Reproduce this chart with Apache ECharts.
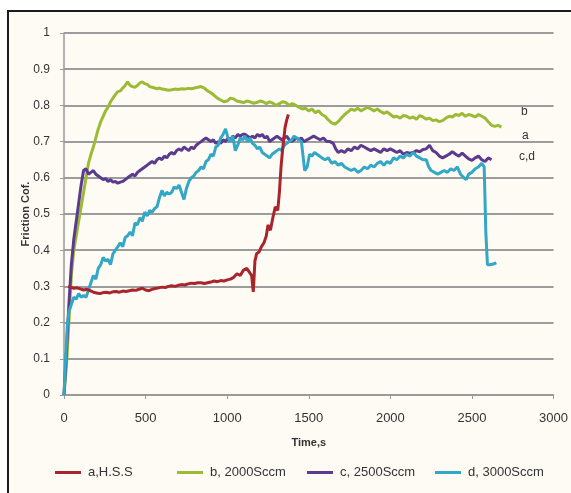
<!DOCTYPE html>
<html>
<head>
<meta charset="utf-8">
<script src="https://cdn.jsdelivr.net/npm/echarts@6/dist/echarts.min.js"></script>
<style>
html,body{margin:0;padding:0;background:#ffffff;}
#chart{width:571px;height:493px;}
</style>
</head>
<body>
<div id="chart"></div>
<script>
// ---- Data (time s, friction coefficient) ----
const seriesNames = ['a,H.S.S', 'b, 2000Sccm', 'c, 2500Sccm', 'd, 3000Sccm'];
const xTicks = [0, 500, 1000, 1500, 2000, 2500, 3000];
const yTicks = [0, 0.1, 0.2, 0.3, 0.4, 0.5, 0.6, 0.7, 0.8, 0.9, 1];

const dataA = [[25,0.30],[40,0.298],[60,0.295],[80,0.296],[100,0.293],[120,0.29],[140,0.292],[160,0.288],[180,0.284],[200,0.282],[220,0.28],[240,0.283],[260,0.284],[280,0.282],[300,0.285],[320,0.286],[340,0.284],[360,0.287],[380,0.286],[400,0.288],[420,0.29],[440,0.289],[460,0.292],[480,0.295],[500,0.29],[520,0.288],[540,0.292],[560,0.294],[580,0.296],[600,0.298],[620,0.297],[640,0.3],[660,0.302],[680,0.3],[700,0.303],[720,0.305],[740,0.304],[760,0.307],[780,0.309],[800,0.308],[820,0.31],[840,0.31],[860,0.308],[880,0.31],[900,0.312],[920,0.315],[940,0.313],[960,0.316],[980,0.315],[1000,0.318],[1020,0.32],[1040,0.325],[1060,0.335],[1080,0.33],[1100,0.345],[1120,0.35],[1135,0.34],[1150,0.33],[1160,0.285],[1170,0.37],[1180,0.39],[1195,0.395],[1210,0.41],[1225,0.42],[1240,0.44],[1250,0.47],[1265,0.455],[1280,0.49],[1295,0.52],[1310,0.51],[1320,0.56],[1330,0.63],[1340,0.68],[1355,0.74],[1365,0.76],[1375,0.775]];

const dataB = [[0,0],[15,0.08],[30,0.2],[45,0.33],[60,0.4],[75,0.44],[90,0.48],[105,0.52],[120,0.56],[135,0.6],[150,0.64],[165,0.665],[180,0.685],[195,0.71],[210,0.735],[225,0.755],[240,0.77],[255,0.785],[270,0.795],[285,0.81],[300,0.82],[315,0.83],[330,0.838],[345,0.84],[360,0.848],[375,0.855],[390,0.865],[405,0.855],[420,0.852],[435,0.85],[450,0.855],[465,0.862],[480,0.865],[495,0.86],[510,0.858],[525,0.852],[540,0.85],[555,0.848],[570,0.846],[585,0.848],[600,0.845],[620,0.844],[640,0.842],[660,0.843],[680,0.845],[700,0.844],[720,0.846],[740,0.845],[760,0.847],[780,0.846],[800,0.848],[820,0.85],[840,0.852],[860,0.848],[880,0.84],[900,0.835],[920,0.828],[940,0.82],[960,0.815],[980,0.81],[1000,0.812],[1020,0.82],[1040,0.818],[1060,0.812],[1080,0.81],[1100,0.808],[1120,0.812],[1140,0.81],[1160,0.806],[1180,0.808],[1200,0.812],[1220,0.81],[1240,0.805],[1260,0.81],[1280,0.806],[1300,0.8],[1320,0.805],[1340,0.81],[1360,0.808],[1380,0.8],[1400,0.805],[1420,0.8],[1440,0.795],[1460,0.79],[1480,0.792],[1500,0.785],[1520,0.79],[1540,0.78],[1560,0.785],[1580,0.775],[1600,0.77],[1620,0.76],[1640,0.752],[1660,0.748],[1680,0.755],[1700,0.765],[1720,0.775],[1740,0.782],[1760,0.79],[1780,0.786],[1800,0.792],[1820,0.785],[1840,0.79],[1860,0.795],[1880,0.79],[1900,0.785],[1920,0.79],[1940,0.783],[1960,0.778],[1980,0.782],[2000,0.775],[2020,0.768],[2040,0.77],[2060,0.765],[2080,0.772],[2100,0.77],[2120,0.765],[2140,0.768],[2160,0.762],[2180,0.772],[2200,0.768],[2220,0.762],[2240,0.765],[2260,0.758],[2280,0.76],[2300,0.755],[2320,0.758],[2340,0.765],[2360,0.77],[2380,0.768],[2400,0.775],[2420,0.772],[2440,0.778],[2460,0.77],[2480,0.775],[2500,0.772],[2520,0.768],[2540,0.775],[2560,0.77],[2580,0.765],[2600,0.755],[2620,0.745],[2640,0.742],[2660,0.745],[2680,0.74]];

const dataC = [[0,0],[15,0.12],[30,0.25],[45,0.36],[60,0.43],[75,0.48],[90,0.53],[105,0.58],[120,0.62],[135,0.625],[150,0.61],[165,0.615],[180,0.62],[195,0.61],[210,0.605],[225,0.6],[240,0.595],[255,0.598],[270,0.59],[285,0.595],[300,0.588],[315,0.59],[330,0.585],[345,0.588],[360,0.59],[375,0.595],[390,0.6],[405,0.605],[420,0.61],[435,0.605],[450,0.615],[465,0.62],[480,0.625],[495,0.63],[510,0.635],[525,0.64],[540,0.645],[555,0.64],[570,0.65],[585,0.655],[600,0.65],[615,0.66],[630,0.655],[645,0.665],[660,0.67],[675,0.665],[690,0.675],[705,0.68],[720,0.675],[735,0.685],[750,0.68],[765,0.675],[780,0.685],[795,0.68],[810,0.69],[825,0.695],[840,0.7],[855,0.705],[870,0.71],[885,0.705],[900,0.7],[915,0.705],[930,0.695],[945,0.7],[960,0.695],[975,0.705],[990,0.7],[1005,0.71],[1020,0.705],[1035,0.715],[1050,0.71],[1065,0.72],[1080,0.715],[1095,0.72],[1110,0.72],[1125,0.715],[1140,0.71],[1155,0.715],[1170,0.71],[1185,0.72],[1200,0.715],[1215,0.72],[1230,0.71],[1245,0.715],[1260,0.7],[1275,0.705],[1290,0.71],[1305,0.715],[1320,0.71],[1335,0.705],[1350,0.71],[1365,0.715],[1380,0.705],[1395,0.7],[1410,0.705],[1425,0.71],[1440,0.705],[1455,0.71],[1470,0.7],[1490,0.705],[1510,0.71],[1530,0.715],[1550,0.71],[1570,0.705],[1590,0.71],[1610,0.7],[1630,0.7],[1650,0.695],[1665,0.68],[1680,0.67],[1700,0.675],[1720,0.67],[1740,0.68],[1760,0.675],[1780,0.685],[1800,0.68],[1820,0.69],[1840,0.685],[1860,0.68],[1880,0.675],[1900,0.68],[1920,0.675],[1940,0.67],[1960,0.68],[1980,0.675],[2000,0.68],[2020,0.675],[2040,0.67],[2060,0.675],[2080,0.665],[2100,0.67],[2120,0.668],[2140,0.67],[2160,0.675],[2180,0.672],[2200,0.678],[2220,0.68],[2240,0.69],[2260,0.675],[2280,0.67],[2300,0.66],[2320,0.655],[2340,0.66],[2360,0.665],[2380,0.672],[2400,0.665],[2420,0.66],[2440,0.668],[2460,0.66],[2480,0.652],[2500,0.648],[2520,0.655],[2540,0.66],[2560,0.65],[2580,0.645],[2600,0.655],[2620,0.65]];

const dataD = [[0,0],[10,0.1],[20,0.19],[30,0.23],[45,0.25],[60,0.27],[75,0.265],[90,0.28],[105,0.27],[120,0.275],[135,0.27],[150,0.29],[165,0.31],[180,0.33],[195,0.32],[210,0.35],[225,0.36],[240,0.38],[255,0.37],[270,0.375],[285,0.36],[300,0.39],[315,0.4],[330,0.41],[345,0.42],[360,0.41],[375,0.435],[390,0.44],[405,0.45],[420,0.44],[435,0.475],[450,0.47],[465,0.49],[480,0.48],[495,0.505],[510,0.495],[525,0.51],[540,0.505],[555,0.515],[570,0.52],[585,0.545],[600,0.565],[615,0.55],[630,0.56],[645,0.555],[660,0.56],[675,0.575],[690,0.57],[705,0.58],[720,0.56],[735,0.54],[750,0.57],[765,0.59],[780,0.6],[795,0.605],[810,0.615],[825,0.62],[840,0.63],[855,0.625],[870,0.645],[885,0.65],[900,0.665],[915,0.66],[930,0.685],[945,0.69],[960,0.71],[975,0.72],[990,0.735],[1005,0.71],[1020,0.7],[1035,0.715],[1050,0.675],[1065,0.69],[1080,0.71],[1095,0.705],[1110,0.715],[1125,0.7],[1140,0.71],[1155,0.695],[1170,0.69],[1185,0.68],[1200,0.685],[1215,0.67],[1230,0.665],[1245,0.66],[1260,0.655],[1275,0.665],[1290,0.67],[1305,0.675],[1320,0.68],[1335,0.675],[1350,0.69],[1365,0.695],[1380,0.7],[1395,0.705],[1410,0.715],[1425,0.71],[1440,0.705],[1455,0.7],[1465,0.66],[1475,0.62],[1490,0.63],[1505,0.665],[1520,0.66],[1535,0.67],[1550,0.665],[1565,0.66],[1580,0.655],[1600,0.65],[1620,0.655],[1640,0.64],[1660,0.645],[1680,0.635],[1700,0.64],[1720,0.63],[1740,0.625],[1760,0.62],[1780,0.625],[1800,0.615],[1820,0.62],[1840,0.63],[1860,0.625],[1880,0.635],[1900,0.63],[1920,0.64],[1940,0.645],[1960,0.635],[1980,0.645],[2000,0.64],[2020,0.655],[2040,0.65],[2060,0.66],[2080,0.655],[2100,0.665],[2120,0.66],[2140,0.67],[2160,0.66],[2180,0.655],[2200,0.65],[2220,0.65],[2235,0.63],[2250,0.62],[2270,0.615],[2290,0.61],[2310,0.615],[2330,0.62],[2350,0.615],[2370,0.625],[2390,0.62],[2410,0.63],[2430,0.61],[2450,0.6],[2465,0.595],[2480,0.61],[2500,0.615],[2520,0.625],[2540,0.63],[2560,0.64],[2575,0.63],[2585,0.45],[2595,0.36],[2610,0.36],[2630,0.362],[2650,0.365]];

const endLabels = ['b', 'a', 'c,d'];

// ---- Chart ----
const colors = ['#a8262b', '#9bbb35', '#5c3a8e', '#33a7c6'];
const font = "'Liberation Sans', Arial, sans-serif";
const chart = echarts.init(document.getElementById('chart'), null, {renderer: 'canvas'});

function legendAt(idx, left) {
  return {
    data: [seriesNames[idx]], left: left, top: 461,
    icon: 'rect', itemWidth: 26, itemHeight: 3, itemGap: 0,
    textStyle: {fontFamily: font, fontSize: 13, color: '#333', padding: [0, 0, 0, 2]},
    selectedMode: false
  };
}

const option = {
  animation: false,
  backgroundColor: 'transparent',
  color: colors,
  grid: {left: 64, top: 33, right: 13, bottom: 98, containLabel: false},
  legend: [legendAt(0, 50), legendAt(1, 172), legendAt(2, 302), legendAt(3, 430)],
  xAxis: {
    type: 'value', min: 0, max: 3000, interval: 500,
    name: 'Time,s', nameLocation: 'middle', nameGap: 42,
    nameTextStyle: {fontFamily: font, fontSize: 11, fontWeight: 'bold', color: '#333'},
    axisLine: {show: true, lineStyle: {color: '#999', width: 1.5}},
    axisTick: {show: true, inside: false, length: 4, lineStyle: {color: '#999'}},
    axisLabel: {fontFamily: font, fontSize: 13, color: '#333', margin: 17,
      formatter: function (v) { return xTicks.indexOf(v) >= 0 ? String(v) : ''; }},
    splitLine: {show: false}
  },
  yAxis: {
    type: 'value', min: 0, max: 1, interval: 0.1,
    name: 'Friction Cof.', nameLocation: 'middle', nameGap: 33, nameRotate: 90,
    nameMoveOverlap: false,
    nameTextStyle: {fontFamily: font, fontSize: 11, fontWeight: 'bold', color: '#333'},
    axisLine: {show: true, lineStyle: {color: '#999', width: 1.5}},
    axisTick: {show: true, length: 4, lineStyle: {color: '#999'}},
    axisLabel: {fontFamily: font, fontSize: 12, color: '#333', margin: 14,
      formatter: function (v) { return String(Math.round(v * 10) / 10); }},
    splitLine: {show: true, lineStyle: {color: '#9c9c9c', width: 1.8}}
  },
  graphic: [
    {type: 'rect', z: -10, silent: true, shape: {x: 8, y: 11, width: 700, height: 700},
      style: {fill: '#fdfbf4', stroke: '#1c1c1c', lineWidth: 2}},
    {type: 'text', left: 521, top: 106, style: {text: endLabels[0], font: '12px ' + font, fill: '#333'}},
    {type: 'text', left: 522, top: 130, style: {text: endLabels[1], font: '12px ' + font, fill: '#333'}},
    {type: 'text', left: 519, top: 151, style: {text: endLabels[2], font: '12px ' + font, fill: '#333'}}
  ],
  series: [
    {name: seriesNames[1], type: 'line', data: dataB, showSymbol: false, z: 2,
      lineStyle: {width: 3, color: colors[1]}, itemStyle: {color: colors[1]}},
    {name: seriesNames[2], type: 'line', data: dataC, showSymbol: false, z: 3,
      lineStyle: {width: 3, color: colors[2]}, itemStyle: {color: colors[2]}},
    {name: seriesNames[3], type: 'line', data: dataD, showSymbol: false, z: 4,
      lineStyle: {width: 3, color: colors[3]}, itemStyle: {color: colors[3]}},
    {name: seriesNames[0], type: 'line', data: dataA, showSymbol: false, z: 5,
      lineStyle: {width: 3, color: colors[0]}, itemStyle: {color: colors[0]}}
  ]
};
chart.setOption(option);
</script>
</body>
</html>
